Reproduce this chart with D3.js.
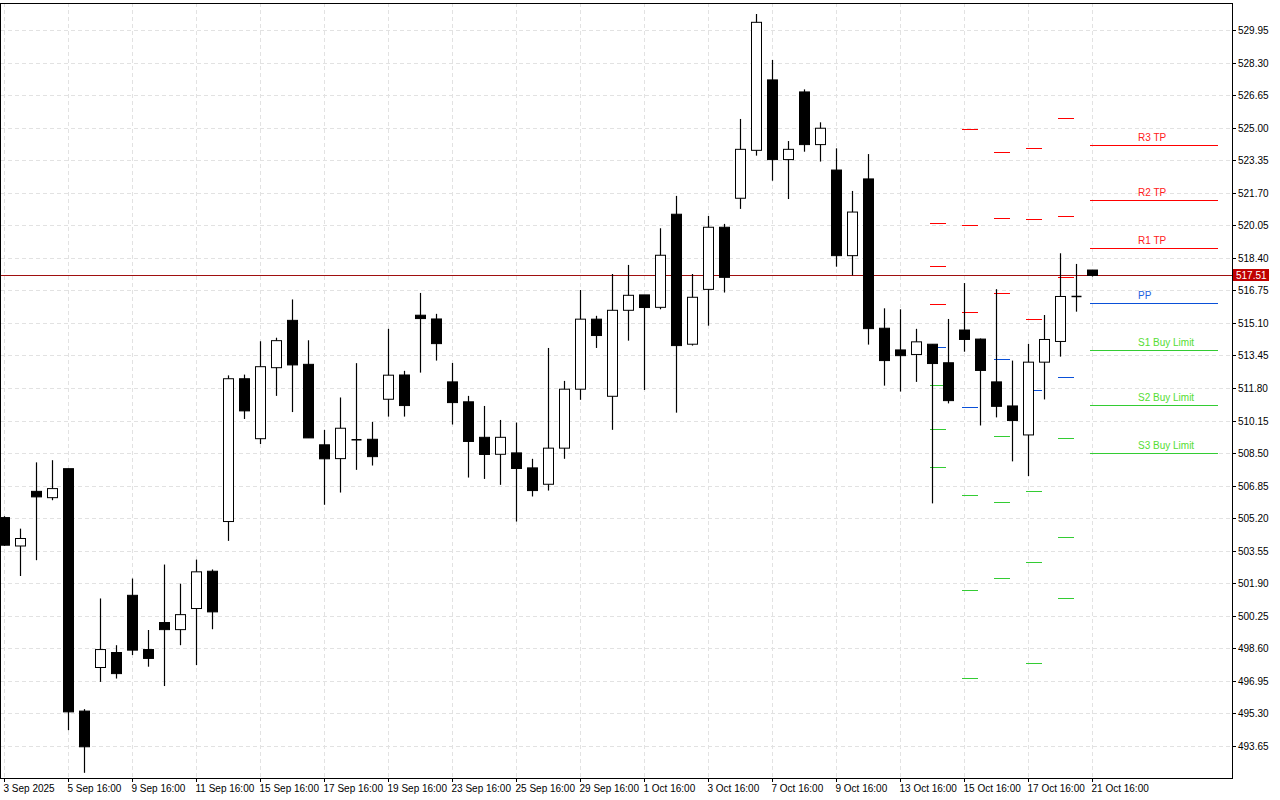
<!DOCTYPE html>
<html>
<head>
<meta charset="utf-8">
<script src="https://cdn.jsdelivr.net/npm/d3@7"></script>
<style>
  body { margin: 0; background: #fff; }
  text { font-family: "Liberation Sans", Arial, sans-serif; font-size: 10px; }
</style>
</head>
<body>
<svg id="chart" width="1280" height="800"></svg>
<script>
// candles (12h bars), index 0..68
const opens  = [505.23,503.79,506.56,506.24,507.71,495.42,497.63,498.39,501.29,498.54,499.91,499.55,500.62,502.51,505.03,512.27,509.23,512.83,515.23,513.00,
                508.92,508.22,509.20,509.20,511.23,512.46,515.49,515.30,512.11,511.10,509.30,508.44,508.51,507.75,506.92,508.75,511.74,515.29,511.38,515.74,
                516.52,515.89,520.61,514.02,516.80,519.95,521.42,523.85,527.42,523.38,526.81,524.14,522.85,518.51,522.40,514.83,513.73,513.50,514.02,513.08,
                514.74,514.28,512.11,510.89,509.42,513.11,514.16,516.45,517.78];
const highs  = [505.30,504.67,508.03,508.14,507.71,495.52,501.13,498.76,502.14,499.53,502.85,501.88,503.10,502.60,512.44,512.48,514.17,514.35,516.29,514.22,
                509.68,511.32,513.06,510.08,514.80,512.67,516.62,515.56,513.07,511.40,510.89,510.18,510.05,508.21,513.83,512.16,516.77,515.46,517.58,518.04,
                516.52,519.90,521.54,517.58,520.52,520.12,525.44,530.76,528.43,524.32,526.94,525.27,523.95,521.79,523.66,515.84,515.79,514.80,514.02,515.30,
                517.12,514.31,516.81,513.19,514.04,515.50,518.63,518.09,517.78];
const lows   = [503.80,502.27,503.07,506.11,494.45,492.29,496.90,497.07,498.26,497.67,496.69,498.76,497.75,499.57,504.05,510.23,508.96,511.40,510.58,509.27,
                505.88,506.50,507.65,507.87,510.35,510.35,512.58,513.19,509.95,507.26,507.19,506.89,505.03,506.30,506.60,508.21,511.20,513.83,509.68,514.20,
                511.70,515.79,510.55,513.95,514.96,516.64,520.88,523.58,522.31,521.38,523.78,523.28,517.95,517.51,514.00,511.92,511.62,512.11,505.95,511.02,
                513.64,509.90,510.31,508.08,507.33,511.22,513.39,515.67,517.45];
const closes = [503.83,504.17,506.28,506.70,495.38,493.61,498.54,497.32,498.51,498.09,499.55,500.31,502.48,500.45,512.27,510.64,512.88,514.20,512.97,509.27,
                508.21,509.76,509.15,508.32,512.45,510.91,515.32,514.05,511.06,509.09,508.43,509.30,507.72,506.60,508.75,511.74,515.29,514.46,515.74,516.50,
                515.88,518.53,513.95,516.40,519.95,517.41,523.90,530.34,523.38,523.90,524.14,524.97,518.51,520.72,514.81,513.19,513.44,514.14,513.04,511.16,
                514.26,512.69,510.87,510.15,513.11,514.26,516.44,516.43,517.51];

const xLabels = ["3 Sep 2025","5 Sep 16:00","9 Sep 16:00","11 Sep 16:00","15 Sep 16:00","17 Sep 16:00","19 Sep 16:00","23 Sep 16:00","25 Sep 16:00",
                 "29 Sep 16:00","1 Oct 16:00","3 Oct 16:00","7 Oct 16:00","9 Oct 16:00","13 Oct 16:00","15 Oct 16:00","17 Oct 16:00","21 Oct 16:00"];
const yTicks = [529.95,528.30,526.65,525.00,523.35,521.70,520.05,518.40,516.75,515.10,513.45,511.80,510.15,508.50,506.85,505.20,503.55,501.90,500.25,498.60,496.95,495.30,493.65];

// daily pivot levels: start candle, R3,R2,R1,PP,S1,S2,S3
const pivotStart = [58, 60, 62, 64, 66];
const pivotR3 = [520.18, 524.94, 523.78, 523.97, 525.50];
const pivotR2 = [518.01, 520.08, 520.43, 520.39, 520.51];
const pivotR1 = [516.04, 515.63, 516.60, 515.28, 517.41];
const pivotPP = [513.87, 510.83, 513.25, 511.68, 512.34];
const pivotS1 = [511.93, 506.38, 509.36, 506.57, 509.26];
const pivotS2 = [509.73, 501.56, 506.03, 502.99, 504.25];
const pivotS3 = [507.79, 497.10, 502.18, 497.88, 501.17];

const levelNames  = ["R3 TP","R2 TP","R1 TP","PP","S1 Buy Limit","S2 Buy Limit","S3 Buy Limit"];
const levelValues = [524.13, 521.34, 518.92, 516.13, 513.71, 510.93, 508.51];
const lastPrice = 517.51;

const svg = d3.select("#chart");
const plotRight = 1232, plotBottom = 778;

const x = d3.scaleLinear().domain([0, 68]).range([4, 1092]);
const y = d3.scaleLinear().domain([493.65, 529.95]).range([746, 30]);

const lineColor = v => v.startsWith("R") ? "#ff0000" : v === "PP" ? "#0a50d8" : "#33cc33";
const textColor = v => v.startsWith("R") ? "#ff2020" : v === "PP" ? "#2060e0" : "#55dd33";

// grid
const grid = svg.append("g").attr("stroke", "#e2e2e2").attr("stroke-dasharray", "4,3");
yTicks.forEach(t => grid.append("line").attr("x1", 1).attr("x2", plotRight)
  .attr("y1", Math.round(y(t)) + 0.5).attr("y2", Math.round(y(t)) + 0.5));
xLabels.forEach((l, i) => grid.append("line")
  .attr("x1", Math.round(x(i * 4)) + 0.5).attr("x2", Math.round(x(i * 4)) + 0.5)
  .attr("y1", 3).attr("y2", plotBottom));

// frame
svg.append("rect").attr("x", 0.5).attr("y", 3.5).attr("width", plotRight).attr("height", plotBottom - 3)
  .attr("fill", "none").attr("stroke", "#000");

// y axis
const yAxis = svg.append("g");
yTicks.forEach(t => {
  const yy = Math.round(y(t)) + 0.5;
  yAxis.append("line").attr("x1", plotRight).attr("x2", plotRight + 4).attr("y1", yy).attr("y2", yy).attr("stroke", "#000");
  yAxis.append("text").attr("x", plotRight + 6).attr("y", yy + 3.5).text(t.toFixed(2));
});

// x axis
xLabels.forEach((l, i) => {
  const xx = Math.round(x(i * 4)) + 0.5;
  svg.append("line").attr("x1", xx).attr("x2", xx).attr("y1", plotBottom).attr("y2", plotBottom + 4).attr("stroke", "#000");
  svg.append("text").attr("x", xx - 1).attr("y", plotBottom + 14).text(l);
});

// daily pivot segments
const dayLevels = [pivotR3, pivotR2, pivotR1, pivotPP, pivotS1, pivotS2, pivotS3];
pivotStart.forEach((s, d) => {
  dayLevels.forEach((arr, k) => {
    const yy = Math.round(y(arr[d])) + 0.5;
    svg.append("line").attr("x1", x(s) - 2).attr("x2", x(s + 1) - 2)
      .attr("y1", yy).attr("y2", yy)
      .attr("stroke", lineColor(levelNames[k])).attr("stroke-width", 1);
  });
});

// last price line
svg.append("line").attr("x1", 1).attr("x2", plotRight)
  .attr("y1", Math.round(y(lastPrice)) + 0.5).attr("y2", Math.round(y(lastPrice)) + 0.5)
  .attr("stroke", "#a01010").attr("stroke-width", 1);

// candles
const candles = svg.append("g");
closes.forEach((c, i) => {
  const o = opens[i], cx = Math.round(x(i)) + 0.5;
  candles.append("line").attr("x1", cx).attr("x2", cx)
    .attr("y1", y(highs[i])).attr("y2", y(lows[i])).attr("stroke", "#000").attr("stroke-width", 1.2);
  const top = y(Math.max(o, c)), bot = y(Math.min(o, c));
  if (bot - top < 1.5) {
    candles.append("line").attr("x1", cx - 5).attr("x2", cx + 5)
      .attr("y1", (top + bot) / 2).attr("y2", (top + bot) / 2).attr("stroke", "#000").attr("stroke-width", 1.5);
  } else {
    candles.append("rect").attr("x", cx - 5).attr("y", top).attr("width", 10).attr("height", bot - top)
      .attr("fill", c < o ? "#000" : "#fff").attr("stroke", "#000").attr("stroke-width", 1);
  }
});

// current pivot levels with labels
levelNames.forEach((n, k) => {
  const yy = Math.round(y(levelValues[k])) + 0.5;
  svg.append("line").attr("x1", 1090).attr("x2", 1218).attr("y1", yy).attr("y2", yy)
    .attr("stroke", lineColor(n)).attr("stroke-width", 1);
  svg.append("text").attr("x", 1138).attr("y", yy - 5).attr("fill", textColor(n)).text(n);
});

// last price tag
const ly = Math.round(y(lastPrice));
svg.append("rect").attr("x", plotRight + 1).attr("y", ly - 6).attr("width", 36).attr("height", 12).attr("fill", "#c00000");
svg.append("text").attr("x", plotRight + 4).attr("y", ly + 4).attr("fill", "#fff").text(lastPrice.toFixed(2));
</script>
</body>
</html>
